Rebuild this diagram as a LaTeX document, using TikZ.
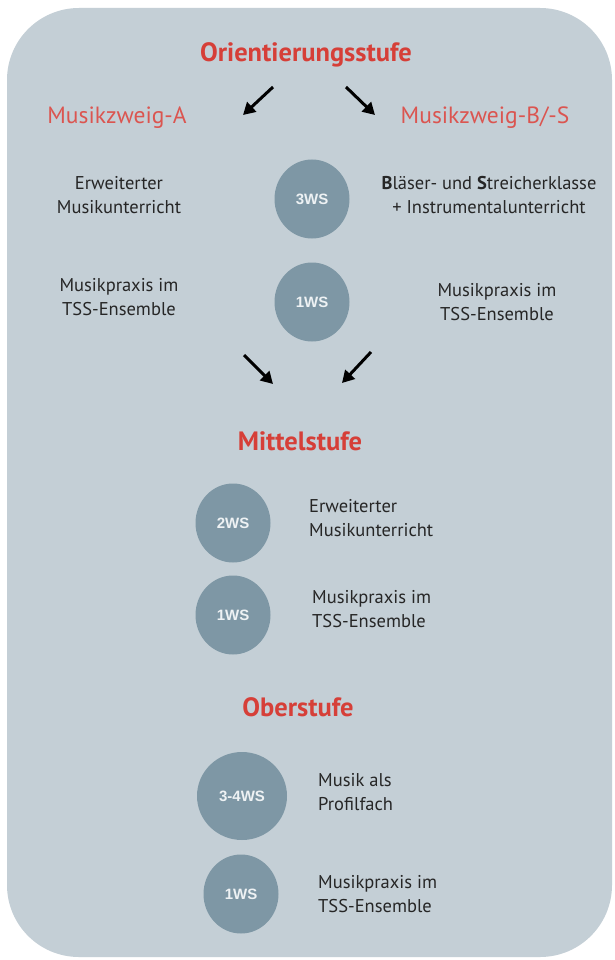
\documentclass[tikz,border=0pt]{standalone}
\usepackage{fontspec}
\setmainfont{PT Sans}
\newfontfamily\circfont{Liberation Sans}
\usetikzlibrary{arrows.meta,shapes.geometric}
\definecolor{bgc}{HTML}{C4CFD6}
\definecolor{circc}{HTML}{7E97A5}
\definecolor{headred}{HTML}{D63F38}
\definecolor{subred}{HTML}{DB5550}
\definecolor{txtc}{HTML}{262626}
\definecolor{circtxt}{HTML}{EEF2F4}
\tikzset{
  head/.style={text=headred, font=\fontsize{26.5}{30}\selectfont\bfseries},
  subhead/.style={text=subred, font=\fontsize{23.5}{27}\selectfont},
  body/.style={text=txtc, font=\fontsize{18.5}{24.5}\selectfont, inner sep=0pt},
  ws/.style={ellipse, fill=circc, text=circtxt, font=\circfont\fontsize{15}{17}\selectfont\bfseries, inner sep=0pt, minimum width=75pt, minimum height=79pt},
  wsbig/.style={ws, minimum width=90pt, minimum height=88pt},
  flow/.style={line width=3pt, -{Triangle[length=12pt,width=13pt]}, black}
}
\begin{document}
\begin{tikzpicture}[x=1pt,y=-1pt]
\useasboundingbox (0,0) rectangle (614,960);
\fill[white] (0,0) rectangle (614,960);
\fill[bgc, rounded corners=72pt] (7,8) rectangle (612,957);

% Orientierungsstufe
\node[head] (ori) at (306,55) {Orientierungsstufe};
\node[subhead] (mza) at (117,118) {Musikzweig-A};
\node[subhead] (mzb) at (485,118) {Musikzweig-B/-S};
\coordinate (a1s) at (273,87);
\coordinate (a1e) at (243,115);
\coordinate (a2s) at (346,87);
\coordinate (a2e) at (375,115);
\draw[flow] (a1s) -- (a1e);
\draw[flow] (a2s) -- (a2e);

\node[ws] (c1) at (312,199) {3WS};
\node[ws] (c2) at (312,302) {1WS};
\node[body, align=center] (l1) at (119,195) {Erweiterter\\Musikunterricht};
\node[body, align=center] (l2) at (119,297) {Musikpraxis im\\TSS-Ensemble};
\node[body, align=center] (r1) at (489,195) {\textbf{B}läser- und \textbf{S}treicherklasse\\+ Instrumentalunterricht};
\node[body, align=center] (r2) at (497,302) {Musikpraxis im\\TSS-Ensemble};

\coordinate (b1s) at (244,355);
\coordinate (b1e) at (273,384);
\coordinate (b2s) at (371,352);
\coordinate (b2e) at (342,383);
\draw[flow] (b1s) -- (b1e);
\draw[flow] (b2s) -- (b2e);

% Mittelstufe
\node[head] (mit) at (300,441) {Mittelstufe};
\node[ws] (c3) at (233,523) {2WS};
\node[ws] (c4) at (233,615) {1WS};
\node[body, align=left, anchor=west] (m1) at (309,518) {Erweiterter\\Musikunterricht};
\node[body, align=left, anchor=west] (m2) at (312,609) {Musikpraxis im\\TSS-Ensemble};

% Oberstufe
\node[head] (obe) at (298,707) {Oberstufe};
\node[wsbig] (c5) at (242,796) {3-4WS};
\node[ws] (c6) at (241,894) {1WS};
\node[body, align=left, anchor=west] (o1) at (318,792) {Musik als\\Profilfach};
\node[body, align=left, anchor=west] (o2) at (318,894) {Musikpraxis im\\TSS-Ensemble};
\end{tikzpicture}
\end{document}
